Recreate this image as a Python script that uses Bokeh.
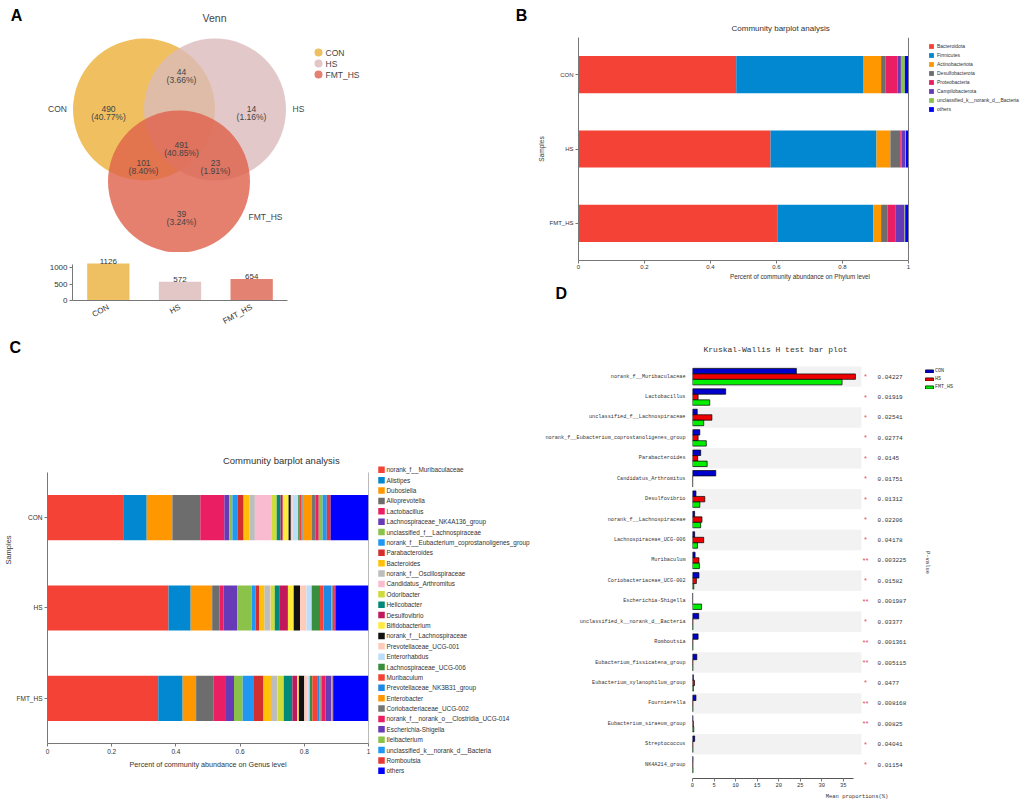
import math
from bokeh.plotting import figure
from bokeh.models import (Range1d, FactorRange, Legend, LegendItem, FixedTicker,
                          Span, ColumnDataSource, Title)
from bokeh.layouts import row, column
from bokeh.transform import dodge
from bokeh.core.properties import value
from bokeh.embed import file_html
from bokeh.resources import INLINE

SANS = "Liberation Sans"
MONO = "Liberation Mono"
TXT = "#333333"

# ------------------------------------------------------------------ data
samples = ["CON", "HS", "FMT_HS"]

# Panel A: Venn
venn_totals = [1126, 572, 654]
venn_regions = ["CON", "HS", "FMT_HS", "CON&HS", "CON&FMT_HS", "HS&FMT_HS", "CON&HS&FMT_HS"]
venn_counts = [490, 14, 39, 44, 101, 23, 491]
venn_percents = ["(40.77%)", "(1.16%)", "(3.24%)", "(3.66%)", "(8.40%)", "(1.91%)", "(40.85%)"]

# Panel B: phylum level relative abundance
phylum_names = ["Bacteroidota", "Firmicutes", "Actinobacteriota", "Desulfobacterota",
                "Proteobacteria", "Campilobacterota", "unclassified_k__norank_d__Bacteria", "others"]
phylum_con = [0.478, 0.386, 0.053, 0.014, 0.036, 0.010, 0.012, 0.011]
phylum_hs = [0.582, 0.321, 0.042, 0.030, 0.004, 0.011, 0.002, 0.008]
phylum_fmt = [0.604, 0.289, 0.024, 0.019, 0.024, 0.028, 0.002, 0.010]

# Panel C: genus level relative abundance
genus_names = ["norank_f__Muribaculaceae", "Alistipes", "Dubosiella", "Alloprevotella",
               "Lactobacillus", "Lachnospiraceae_NK4A136_group", "unclassified_f__Lachnospiraceae",
               "norank_f__Eubacterium_coprostanoligenes_group", "Parabacteroides", "Bacteroides",
               "norank_f__Oscillospiraceae", "Candidatus_Arthromitus", "Odoribacter", "Helicobacter",
               "Desulfovibrio", "Bifidobacterium", "norank_f__Lachnospiraceae", "Prevotellaceae_UCG-001",
               "Enterorhabdus", "Lachnospiraceae_UCG-006", "Muribaculum", "Prevotellaceae_NK3B31_group",
               "Enterobacter", "Coriobacteriaceae_UCG-002", "norank_f__norank_o__Clostridia_UCG-014",
               "Escherichia-Shigella", "Ileibacterium", "unclassified_k__norank_d__Bacteria",
               "Romboutsia", "others"]
genus_con = [0.238, 0.071, 0.080, 0.087, 0.075, 0.015, 0.010, 0.017, 0.018, 0.018,
             0.017, 0.053, 0.015, 0.012, 0.007, 0.018, 0.007, 0.006, 0.017, 0.003,
             0.007, 0.004, 0.028, 0.012, 0.010, 0.000, 0.012, 0.013, 0.012, 0.118]
genus_hs = [0.377, 0.069, 0.067, 0.023, 0.013, 0.042, 0.045, 0.012, 0.011, 0.017,
            0.017, 0.002, 0.013, 0.014, 0.027, 0.018, 0.020, 0.020, 0.016, 0.026,
            0.011, 0.025, 0.002, 0.006, 0.004, 0.000, 0.000, 0.000, 0.000, 0.103]
genus_fmt = [0.345, 0.076, 0.042, 0.055, 0.038, 0.025, 0.027, 0.033, 0.032, 0.023,
             0.020, 0.002, 0.018, 0.027, 0.015, 0.005, 0.017, 0.010, 0.007, 0.008,
             0.015, 0.008, 0.002, 0.004, 0.012, 0.018, 0.002, 0.002, 0.002, 0.110]

# Panel D: Kruskal-Wallis H test (mean proportions, %)
kw_taxa = ["norank_f__Muribaculaceae", "Lactobacillus", "unclassified_f__Lachnospiraceae",
           "norank_f__Eubacterium_coprostanoligenes_group", "Parabacteroides", "Candidatus_Arthromitus",
           "Desulfovibrio", "norank_f__Lachnospiraceae", "Lachnospiraceae_UCG-006", "Muribaculum",
           "Coriobacteriaceae_UCG-002", "Escherichia-Shigella", "unclassified_k__norank_d__Bacteria",
           "Romboutsia", "Eubacterium_fissicatena_group", "Eubacterium_xylanophilum_group",
           "Fournierella", "Eubacterium_siraeum_group", "Streptococcus", "NK4A214_group"]
kw_con = [24.1, 7.7, 1.1, 1.7, 1.9, 5.4, 0.8, 0.5, 0.5, 0.6,
          1.5, 0.05, 1.45, 1.3, 1.0, 0.2, 0.8, 0.1, 0.5, 0.12]
kw_hs = [37.8, 1.3, 4.5, 1.3, 1.2, 0.05, 2.85, 2.2, 2.6, 1.5,
         0.9, 0.05, 0.1, 0.1, 0.1, 0.45, 0.1, 0.2, 0.1, 0.1]
kw_fmt = [34.7, 4.0, 2.6, 3.2, 3.4, 0.05, 1.7, 1.9, 1.15, 1.6,
          0.3, 2.1, 0.1, 0.1, 0.1, 0.2, 0.1, 0.3, 0.1, 0.12]
kw_pvalues = ["0.04227", "0.01919", "0.02541", "0.02774", "0.0145", "0.01751", "0.01312",
              "0.02206", "0.04178", "0.003225", "0.01582", "0.001987", "0.03377", "0.001361",
              "0.005115", "0.0477", "0.008168", "0.00825", "0.04041", "0.01154"]
kw_stars = ["**" if float(p) < 0.01 else "*" for p in kw_pvalues]

# ------------------------------------------------------------------ styles
venn_fill = ["#ECB038", "#DBBABA", "#DE604A"]
venn_solid = ["#EFC062", "#E3C7C7", "#E38272"]
phylum_colors = ["#F44336", "#0288D1", "#FF9800", "#6D6D6D", "#E91E63", "#673AB7", "#8BC34A", "#0000FF"]
genus_colors = ["#F44336", "#0288D1", "#FF9800", "#6D6D6D", "#E91E63", "#673AB7", "#8BC34A",
                "#2196F3", "#D32F2F", "#FFC107", "#BDBDBD", "#F8BBD0", "#CDDC39", "#00897B",
                "#C2185B", "#FFEB3B", "#111111", "#FFCCBC", "#BBDEFB", "#388E3C", "#F44336",
                "#1E88E5", "#FF9800", "#757575", "#E91E63", "#673AB7", "#8BC34A", "#2196F3",
                "#E53935", "#0000FF"]
kw_colors = ["#0000CC", "#EE0000", "#00EE00"]

WL, WR = 533, 488
ticks01 = [0, 0.2, 0.4, 0.6, 0.8, 1]


def new_fig(**kw):
    p = figure(toolbar_location=None, output_backend="svg", outline_line_color=None,
               frame_align=False, **kw)
    p.grid.visible = False
    return p


def style_axes(p, tick_size="6.5px", font=SANS):
    for ax in p.axis:
        ax.axis_line_color = "#777777"
        ax.major_tick_line_color = "#777777"
        ax.major_tick_out = 3
        ax.major_tick_in = 0
        ax.minor_tick_line_color = None
        ax.major_label_text_font = font
        ax.major_label_text_font_size = tick_size
        ax.major_label_text_color = TXT
        ax.major_label_standoff = 2
        ax.axis_label_text_font = font
        ax.axis_label_text_font_style = "normal"
        ax.axis_label_text_color = TXT


def letter(p, text, offset):
    p.add_layout(Title(text=text, align="left", offset=offset, text_font=SANS,
                       text_font_size="16px", text_font_style="bold", text_color="black",
                       standoff=1), "above")


# ------------------------------------------------------------------ Panel A (Venn)
pa = new_fig(width=WL, height=252, x_range=Range1d(0, WL), y_range=Range1d(252, 0),
             x_axis_location=None, y_axis_location=None, min_border=0)
cx = [143.5, 214.5, 178.5]
cy = [109, 109, 181]
pa.circle(x=cx, y=cy, radius=71, fill_color=venn_fill, fill_alpha=0.8, line_color=None)

reg_x = [108, 251, 181, 181, 143, 215, 181]
reg_y = [108, 108, 213, 71, 162, 162, 144]
tkw = dict(text_align="center", text_baseline="middle", text_font=value(SANS),
           text_font_size="8.5px", text_color="#444444")
pa.text(x=reg_x, y=reg_y, text=[str(c) for c in venn_counts], **tkw)
pa.text(x=reg_x, y=[v + 8.5 for v in reg_y], text=venn_percents, **tkw)
pa.text(x=[57, 298, 265], y=[108, 108, 216], text=samples, **tkw)
pa.circle(x=[318, 318, 318], y=[52, 63, 74], radius=4, fill_color=venn_solid, line_color=None)
pa.text(x=[325, 325, 325], y=[52, 63, 74], text=samples, text_baseline="middle",
        text_font=value(SANS), text_font_size="8.5px", text_color="#444444")
pa.text(x=[214], y=[17], text=["Venn"], text_align="center", text_baseline="middle",
        text_font=value(SANS), text_font_size="10.5px", text_color="#444444")
pa.text(x=[16, 521], y=[15, 15], text=["A", "B"], text_align="center", text_baseline="middle",
        text_font=value(SANS), text_font_size="16px", text_font_style="bold", text_color="black")

# ------------------------------------------------------------------ Panel A (set sizes)
pa2 = new_fig(width=WL, height=80, x_range=FactorRange(*samples), y_range=Range1d(0, 1400),
              min_border_left=72, min_border_right=246, min_border_top=2, min_border_bottom=25)
pa2.vbar(x=samples, top=venn_totals, width=0.59, fill_color=venn_solid, line_color=None)
pa2.text(x=samples, y=venn_totals, text=[str(v) for v in venn_totals], text_align="center",
         text_baseline="bottom", text_font=value(SANS), text_font_size="8px", text_color=TXT)
style_axes(pa2, "8px")
pa2.yaxis.ticker = FixedTicker(ticks=[0, 500, 1000])
pa2.yaxis.bounds = (0, 1100)
pa2.xaxis.major_tick_line_color = None
pa2.xaxis.major_label_orientation = 0.5
pa2.xaxis.major_label_standoff = 3

# ------------------------------------------------------------------ Panel C (genus)
C_LEFT = 46                    # frame left (px)
C_UNIT = 368 - C_LEFT          # px per unit of abundance
C_W = 375
pc = new_fig(width=C_W, height=474, x_range=Range1d(0, 1), y_range=Range1d(0, 4.284),
             min_border_left=C_LEFT, min_border_right=C_W - 368, min_border_top=24,
             min_border_bottom=63)
letter(pc, "C", 8 - C_LEFT)
src_c = {"y": [len(samples) - 0.5 - i for i in range(len(samples))]}
for i, n in enumerate(genus_names):
    src_c[n] = [genus_con[i], genus_hs[i], genus_fmt[i]]
rc = pc.hbar_stack(genus_names, y="y", height=0.5, color=genus_colors,
                   source=ColumnDataSource(src_c), line_width=0)
style_axes(pc, "6.5px")
pc.xaxis.ticker = FixedTicker(ticks=ticks01)
pc.xaxis.major_label_overrides = {t: f"{t:g}" for t in ticks01}
pc.xaxis.axis_label = "Percent of community abundance on Genus level"
pc.xaxis.axis_label_text_font_size = "7.2px"
pc.xaxis.axis_label_standoff = 3
pc.yaxis.ticker = FixedTicker(ticks=src_c["y"])
pc.yaxis.major_label_overrides = dict(zip(src_c["y"], samples))
pc.yaxis.bounds = (0, len(samples))
pc.yaxis.axis_label = "Samples"
pc.yaxis.axis_label_text_font_size = "7.5px"
pc.yaxis.axis_label_standoff = 1
pc.segment(x0=1, y0=0, x1=1, y1=len(samples), line_color="#777777", line_width=1)
pc.text(x=[(222 - C_LEFT) / C_UNIT], y=[(743 - 460) / 90.33], text=["Community barplot analysis"],
        text_baseline="middle", text_font=value(SANS), text_font_size="9.5px", text_color=TXT)

# legend of panel C (its own small canvas to the right of the bars)
pcl = new_fig(width=WL - C_W, height=474, x_range=Range1d(C_W, WL), y_range=Range1d(806, 332),
              x_axis_location=None, y_axis_location=None, min_border=0)
leg_y = [469.3 + 10.38 * i for i in range(len(genus_names))]
pcl.scatter(x=381, y=leg_y, marker="square", size=6.5, fill_color=genus_colors, line_color=None)
pcl.text(x=386, y=leg_y, text=genus_names, text_baseline="middle", text_font=value(SANS),
         text_font_size="6.4px", text_color=TXT)

# ------------------------------------------------------------------ Panel B (phylum)
B_LEFT = 578
B_UNIT = 908 - B_LEFT
B_H = 282
pb = new_fig(width=WR, height=B_H, x_range=Range1d(0, (1021 - B_LEFT) / B_UNIT),
             y_range=FactorRange(*reversed(samples)),
             min_border_left=B_LEFT - WL, min_border_right=0, min_border_top=37,
             min_border_bottom=18, title="Community barplot analysis")
src_b = {"sample": samples}
for i, n in enumerate(phylum_names):
    src_b[n] = [phylum_con[i], phylum_hs[i], phylum_fmt[i]]
rb = pb.hbar_stack(phylum_names, y="sample", height=0.5, color=phylum_colors,
                   source=ColumnDataSource(src_b), line_width=0)
style_axes(pb, "6px")
pb.xaxis.ticker = FixedTicker(ticks=ticks01)
pb.xaxis.major_label_overrides = {t: f"{t:g}" for t in ticks01}
pb.xaxis.bounds = (0, 1)
pb.xaxis.axis_label = "Percent of community abundance on Phylum level"
pb.xaxis.axis_label_text_font_size = "6.3px"
pb.xaxis.axis_label_standoff = 1
pb.xaxis.major_label_standoff = 1
pb.yaxis.axis_label = "Samples"
pb.yaxis.axis_label_text_font_size = "6.5px"
pb.yaxis.axis_label_standoff = 2
pb.title.text_font = SANS
pb.title.text_font_size = "8px"
pb.title.text_font_style = "normal"
pb.title.text_color = TXT
pb.title.align = "left"
pb.title.offset = 731 - B_LEFT
pb.title.standoff = 9
pb.add_layout(Span(location=1, dimension="height", line_color="#777777", line_width=1))
leg_b = Legend(items=[LegendItem(label=n, renderers=[r]) for n, r in zip(phylum_names, rb)],
               location=(930 - B_LEFT - 2, 148), label_text_font=SANS, label_text_font_size="5px",
               label_text_color=TXT, glyph_width=6, glyph_height=6, label_height=7, spacing=2,
               padding=2, margin=0, label_standoff=3, border_line_color=None,
               background_fill_alpha=0)
pb.add_layout(leg_b)

# ------------------------------------------------------------------ Panel D (Kruskal-Wallis)
D_UNIT = 4.31          # px per percent
D_ROW = 20.42          # px per row
D_TOP = B_H + 20       # expected frame top (px)
D_BOT = 778            # expected frame bottom (px)
Y0 = -0.18             # small gap between last row and the axis
XMAX = 39.2
nd = len(kw_taxa)
d_y = [nd - 0.5 - i for i in range(nd)]
pdp = new_fig(width=WR, height=806 - B_H, x_range=Range1d(0, (1021 - 692) / D_UNIT),
              y_range=Range1d(Y0, Y0 + (D_BOT - D_TOP) / D_ROW),
              min_border_left=159, min_border_right=0, min_border_top=D_TOP - B_H,
              min_border_bottom=806 - D_BOT)
letter(pdp, "D", -137)
pdp.hbar(y=d_y[0::2], left=0, right=XMAX, height=1, fill_color="#F2F2F2", line_color=None)
src_d = ColumnDataSource({"y": d_y, "CON": kw_con, "HS": kw_hs, "FMT_HS": kw_fmt})
rd = []
for off, key, col in zip([0.27, 0.0, -0.27], samples, kw_colors):
    rd.append(pdp.hbar(y=dodge("y", off), left=0, right=key, height=0.265,
                       fill_color=col, line_color="black", line_width=0.7, source=src_d))
style_axes(pdp, "5.5px", MONO)
pdp.yaxis.ticker = FixedTicker(ticks=d_y)
pdp.yaxis.major_label_overrides = dict(zip(d_y, kw_taxa))
pdp.yaxis.axis_line_color = None
pdp.yaxis.major_tick_line_color = None
pdp.yaxis.major_label_text_font_size = "5.2px"
pdp.yaxis.major_label_standoff = 4
pdp.xaxis.ticker = FixedTicker(ticks=[0, 5, 10, 15, 20, 25, 30, 35])
pdp.xaxis.bounds = (0, 37.3)
pdp.xaxis.axis_line_color = "#555555"
pdp.xaxis.axis_label = "Mean proportions(%)"
pdp.xaxis.axis_label_text_font_size = "5.5px"
pdp.xaxis.axis_label_standoff = 3
pdp.xaxis.major_label_standoff = 1
y_of = lambda px: Y0 + (D_BOT - px) / D_ROW
pdp.text(x=(865 - 692) / D_UNIT, y=d_y, text=kw_stars, text_align="center", text_baseline="middle",
         text_font=value(SANS), text_font_size="7.5px", text_color="#E0506A")
pdp.text(x=(877 - 692) / D_UNIT, y=d_y, text=kw_pvalues, text_baseline="middle",
         text_font=value(MONO), text_font_size="6px", text_color=TXT)
pdp.text(x=[(927 - 692) / D_UNIT], y=[y_of(562)], text=["P-value"], angle=-math.pi / 2,
         text_align="center", text_baseline="middle", text_font=value(MONO),
         text_font_size="5.5px", text_color=TXT)
pdp.text(x=[(775 - 692) / D_UNIT], y=[y_of(349)], text=["Kruskal-Wallis H test bar plot"],
         text_align="center", text_baseline="middle", text_font=value(MONO),
         text_font_size="8px", text_color=TXT)
leg_d = Legend(items=[LegendItem(label=s, renderers=[r]) for s, r in zip(samples, rd)],
               location=(926 - 692 - 2, D_BOT - 390), label_text_font=MONO,
               label_text_font_size="5px", label_text_color=TXT, glyph_width=10, glyph_height=4,
               label_height=6, spacing=2, padding=2, margin=0, label_standoff=1,
               border_line_color=None, background_fill_alpha=0)
pdp.add_layout(leg_d)

layout = row(column(pa, pa2, row(pc, pcl)), column(pb, pdp))
open("out.html", "w").write(file_html(layout, INLINE, title="Figure"))
